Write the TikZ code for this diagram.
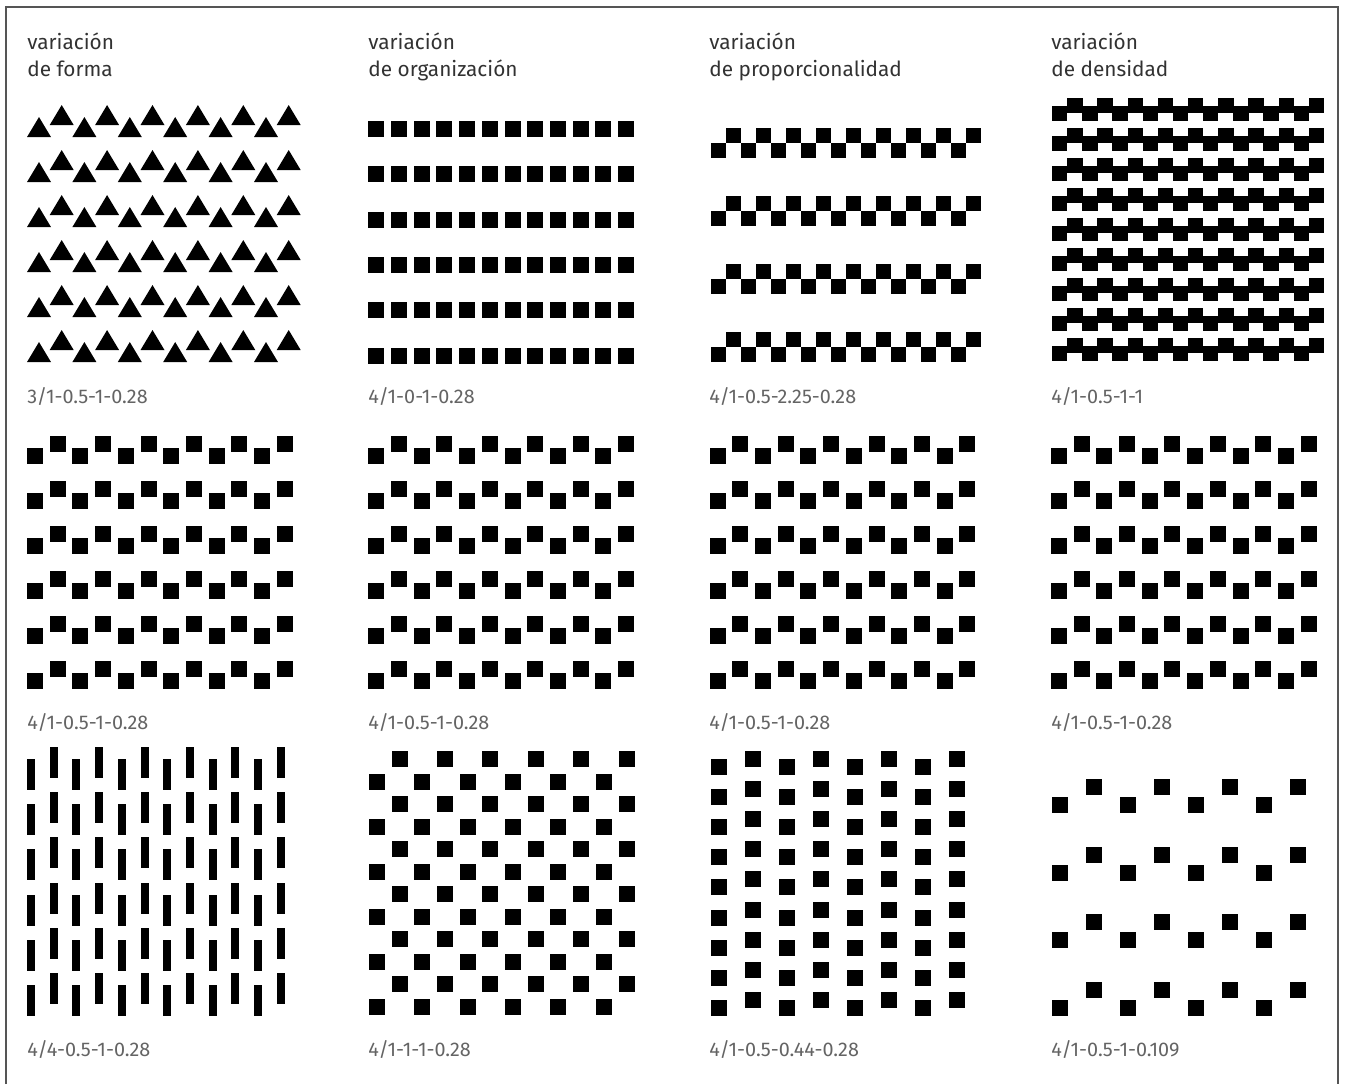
\documentclass[tikz,border=0pt]{standalone}
\usepackage{fontspec}
\setmainfont{Fira Sans}
\usepackage{tikz}
\definecolor{ttlgray}{RGB}{50,50,50}
\definecolor{lblgray}{RGB}{100,100,100}
\definecolor{framegray}{RGB}{85,85,85}
\tikzset{
  ttl/.style={anchor=base west,inner sep=0pt,text=ttlgray,
              font=\fontsize{10.4}{12}\selectfont},
  lbl/.style={anchor=base west,inner sep=0pt,text=lblgray,
              font=\fontsize{9.9}{11}\selectfont},
  frame/.style={draw=framegray,line width=0.8pt},
  blk/.style={fill=black}}

\begin{document}
\begin{tikzpicture}[x=0.5pt,y=-0.5pt]
  \useasboundingbox (0,0) rectangle (1345,1084);
  \draw[frame] (6,1084) -- (6,7) -- (1338,7) -- (1338,1084);
  % titles
  \node[ttl] (t1a) at (27,49.5) {variación};
  \node[ttl] (t1b) at (27,76) {de forma};
  \node[ttl] (t2a) at (368,49.5) {variación};
  \node[ttl] (t2b) at (368,76) {de organización};
  \node[ttl] (t3a) at (709,49.5) {variación};
  \node[ttl] (t3b) at (709,76) {de proporcionalidad};
  \node[ttl] (t4a) at (1051,49.5) {variación};
  \node[ttl] (t4b) at (1051,76) {de densidad};
  % row 1
  \foreach \r in {0,...,5} \foreach \i in {0,...,11}
    \fill[blk] ({27+22.7*\i},{137+45*\r-12*mod(\i,2)}) -- ++(24,0) -- ++(-12,-20) -- cycle;
  \foreach \r in {0,...,5} \foreach \i in {0,...,11}
    \fill[blk] ({368.3+22.7*\i},{121+45.3*\r}) rectangle ++(16,16);
  \foreach \r in {0,...,3} \foreach \i in {0,...,17}
    \fill[blk] ({711+15*\i},{143+68*\r-15.5*mod(\i,2)}) rectangle ++(15.3,15.3);
  \foreach \r in {0,...,8} \foreach \i in {0,...,17}
    \fill[blk] ({1052+15.1*\i},{106+30*\r-8*mod(\i,2)}) rectangle ++(15.4,15.4);
  \node[lbl] (l1) at (27,403) {3/1-0.5-1-0.28};
  \node[lbl] (l2) at (368,403) {4/1-0-1-0.28};
  \node[lbl] (l3) at (709,403) {4/1-0.5-2.25-0.28};
  \node[lbl] (l4) at (1051,403) {4/1-0.5-1-1};
  % row 2
  \foreach \c in {0,...,3} \foreach \r in {0,...,5} \foreach \i in {0,...,11}
    \fill[blk] ({27+341.3*\c+22.7*\i},{448+45*\r-12*mod(\i,2)}) rectangle ++(16,16);
  \node[lbl] (l5) at (27,729) {4/1-0.5-1-0.28};
  \node[lbl] (l6) at (368,729) {4/1-0.5-1-0.28};
  \node[lbl] (l7) at (709,729) {4/1-0.5-1-0.28};
  \node[lbl] (l8) at (1051,729) {4/1-0.5-1-0.28};
  % row 3
  \foreach \r in {0,...,5} \foreach \i in {0,...,11}
    \fill[blk] ({27+22.7*\i},{759+45.2*\r-12*mod(\i,2)}) rectangle ++(8,31);
  \foreach \k in {0,...,11} \foreach \i in {0,...,5}
    \fill[blk] ({391.5+45.4*\i-22.7*mod(\k,2)},{751+22.5*\k}) rectangle ++(16,16);
  \foreach \r in {0,...,8} \foreach \i in {0,...,7}
    \fill[blk] ({711+34*\i},{759+30.1*\r-8*mod(\i,2)}) rectangle ++(16,16);
  \foreach \r in {0,...,3} \foreach \i in {0,...,7}
    \fill[blk] ({1052+34*\i},{797+67.7*\r-18*mod(\i,2)}) rectangle ++(16,16);
  \node[lbl] (l9) at (27,1056) {4/4-0.5-1-0.28};
  \node[lbl] (l10) at (368,1056) {4/1-1-1-0.28};
  \node[lbl] (l11) at (709,1056) {4/1-0.5-0.44-0.28};
  \node[lbl] (l12) at (1051,1056) {4/1-0.5-1-0.109};
\end{tikzpicture}
\end{document}
